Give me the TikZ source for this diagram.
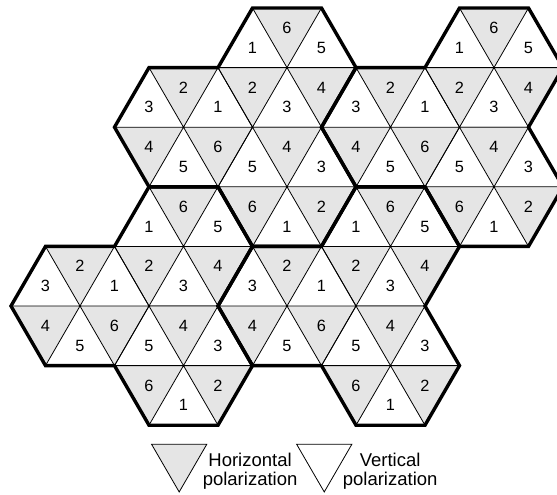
\documentclass[tikz,border=0pt]{standalone}
\usepackage{fontspec}
\setmainfont{Liberation Sans}
\usepackage{tikz}
\definecolor{horizgray}{RGB}{229,229,229}

% six triangles round lattice point (#1,#2), labels #3..#8 = upper left, top, upper right, lower left, bottom, lower right
\newcommand{\hexcell}[9]{%
    \fill[horizgray] (#1-1,#2-1) -- (#1+1,#2-1) -- (#1,#2) -- cycle;
    \fill[horizgray] (#1-2,#2) -- (#1,#2) -- (#1-1,#2+1) -- cycle;
    \fill[horizgray] (#1,#2) -- (#1+2,#2) -- (#1+1,#2+1) -- cycle;
    \draw[gridline] (#1-1,#2-1) -- (#1+1,#2-1) -- (#1+2,#2) -- (#1+1,#2+1) -- (#1-1,#2+1) -- (#1-2,#2) -- cycle
        (#1-2,#2) -- (#1+2,#2) (#1-1,#2-1) -- (#1+1,#2+1) (#1+1,#2-1) -- (#1-1,#2+1);
    \node[cellnum] (#9-ul) at (#1-1,#2-1/3) {#3};
    \node[cellnum] (#9-up) at (#1,#2-2/3) {#4};
    \node[cellnum] (#9-ur) at (#1+1,#2-1/3) {#5};
    \node[cellnum] (#9-ll) at (#1-1,#2+1/3) {#6};
    \node[cellnum] (#9-lo) at (#1,#2+2/3) {#7};
    \node[cellnum] (#9-lr) at (#1+1,#2+1/3) {#8};
}

\begin{document}
\begin{tikzpicture}[x=34.5pt, y=-59.6pt,
    gridline/.style={line width=0.8pt},
    clusterline/.style={line width=3.4pt},
    cellnum/.style={inner sep=0pt, font=\fontsize{16.3}{19}\selectfont},
    legendtext/.style={inner sep=0pt, align=center, font=\fontsize{18.5}{18.3}\selectfont}]
    \useasboundingbox (-7.3188,-0.1342) rectangle (8.8261,8.1711);

    % cells, three hexagons per cluster
    \foreach \du/\dj [count=\k] in {0/0, 6/0, -3/3, 3/3} {
        \begin{scope}[shift={(\du,\dj)}]
            \hexcell{1}{1}{1}{6}{5}{2}{3}{4}{c\k-top}
            \hexcell{-2}{2}{3}{2}{1}{4}{5}{6}{c\k-left}
            \hexcell{1}{3}{5}{4}{3}{6}{1}{2}{c\k-low}
        \end{scope}
    }

    % cluster borders
    \foreach \du/\dj in {0/0, 6/0, -3/3, 3/3}
        \draw[clusterline, shift={(\du,\dj)}] (0,0) -- (2,0) -- (3,1) -- (2,2) -- (3,3) -- (2,4) -- (0,4)
            -- (-1,3) -- (-3,3) -- (-4,2) -- (-3,1) -- (-1,1) -- cycle;

    % legend
    \filldraw[fill=horizgray, gridline] (-2.925,7.32) -- (-1.325,7.32) -- (-2.125,8.12) -- cycle;
    \node[legendtext] (hpol) at (-0.07,7.77) {Horizontal\\polarization};
    \draw[gridline] (1.28,7.32) -- (2.88,7.32) -- (2.08,8.12) -- cycle;
    \node[legendtext] (vpol) at (3.99,7.77) {Vertical\\polarization};
\end{tikzpicture}
\end{document}
